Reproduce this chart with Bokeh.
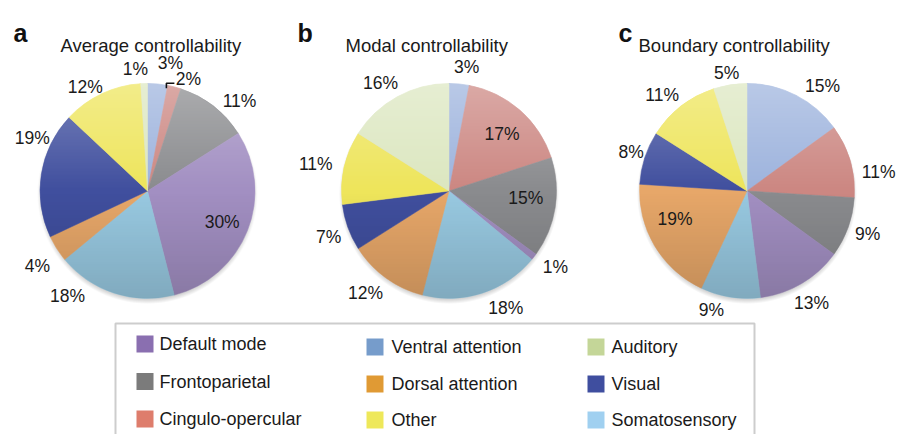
import numpy as np
from bokeh.plotting import figure
from bokeh.models import Range1d
from bokeh.core.properties import value
from bokeh.embed import file_html
from bokeh.resources import INLINE

# ---------------- data ----------------
categories = ["Ventral attention", "Cingulo-opercular", "Frontoparietal",
              "Default mode", "Somatosensory", "Dorsal attention",
              "Visual", "Other", "Auditory"]
average_pct = [3, 2, 11, 30, 18, 4, 19, 12, 1]
modal_pct = [3, 17, 15, 1, 18, 12, 7, 11, 16]
boundary_pct = [15, 11, 9, 13, 9, 19, 8, 11, 5]
titles = ["Average controllability", "Modal controllability", "Boundary controllability"]
panel_letters = ["a", "b", "c"]
legend_columns = [["Default mode", "Frontoparietal", "Cingulo-opercular"],
                  ["Ventral attention", "Dorsal attention", "Other"],
                  ["Auditory", "Visual", "Somatosensory"]]

# ---------------- styles ----------------
pie_colors = {
    "Ventral attention": "#9DB3DD", "Cingulo-opercular": "#CC8782",
    "Frontoparietal": "#8A8B8E", "Default mode": "#A28FC2",
    "Somatosensory": "#98C9E1", "Dorsal attention": "#E7A769",
    "Visual": "#404F9E", "Other": "#EEE55B", "Auditory": "#DCE7C0",
}
legend_colors = {
    "Default mode": "#8A6FB0", "Frontoparietal": "#7B7B7B", "Cingulo-opercular": "#DE7D6C",
    "Ventral attention": "#769CCB", "Dorsal attention": "#E09A34", "Other": "#EEE85A",
    "Auditory": "#C4D698", "Visual": "#3F4E9F", "Somatosensory": "#A0D0F0",
}
FONT = value("Liberation Sans")
TXT = "#1A1A1A"

# label placement (angle shift in degrees from slice middle, distance in px)
label_shift = [[4.7, 5.7, 7.7, 1.2, 19.3, -1.7, 15.9, -5.7, -3.8],
               [2.7, 1.5, -4.1, -2.1, -7.9, 3.2, -1.3, -1.0, -3.5],
               [8.8, 8.2, -0.4, 0.6, 7.7, 9.6, 0.4, -3.7, -0.8]]
label_dist = [[130, 119, 129, 81, 132, 133, 127, 121, 123],
              [125, 78, 77, 131, 130, 132, 129, 136, 128],
              [129, 133, 128, 129, 124, 77, 122, 128, 120]]

W, H = 898, 434
def X(px):
    return px
def Y(py):
    return H - py

centers = [(147, 190.5), (448.5, 190.5), (746.5, 190.5)]
R = 107.5
title_x = [60, 345, 638]
letter_x = [13, 297, 618]

p = figure(width=W, height=H, x_range=Range1d(0, W), y_range=Range1d(0, H),
           output_backend="svg", toolbar_location=None, min_border=0)
p.axis.visible = False
p.grid.visible = False
p.outline_line_color = None
p.background_fill_color = "white"
p.border_fill_color = "white"


def rgba_image(n, alpha, rgb):
    img = np.zeros((n, n), dtype=np.uint32)
    v = img.view(dtype=np.uint8).reshape((n, n, 4))
    v[..., 0] = rgb[0]
    v[..., 1] = rgb[1]
    v[..., 2] = rgb[2]
    v[..., 3] = np.clip(alpha * 255, 0, 255).astype(np.uint8)
    return img


n = 2 * int(R) + 8
half = n / 2.0
jj, ii = np.meshgrid(np.arange(n) + 0.5 - half, np.arange(n) + 0.5 - half)
dist = np.sqrt(jj ** 2 + ii ** 2)
mask = np.clip(R - dist + 0.5, 0, 1)
t = 1 - (np.arange(n)[:, None] + 0.5) / n  # 0 top, 1 bottom
t = np.repeat(t, n, axis=1)
white_alpha = np.where(t < 0.5, 0.30 * (0.5 - t) / 0.5, 0) * mask
black_alpha = np.where(t > 0.5, 0.16 * (t - 0.5) / 0.5, 0) * mask
shadow_alpha = 0.28 * np.clip((R + 2.5 - dist) / 5.0, 0, 1)

img_white = rgba_image(n, white_alpha, (255, 255, 255))
img_black = rgba_image(n, black_alpha, (0, 0, 0))
img_shadow = rgba_image(n, shadow_alpha, (90, 90, 90))

series = [average_pct, modal_pct, boundary_pct]

for k, vals in enumerate(series):
    cx, cy = centers[k]
    vals = np.array(vals, dtype=float)
    frac = vals / vals.sum()
    c1 = np.cumsum(frac)
    c0 = c1 - frac
    # shadow
    p.image_rgba(image=[img_shadow], x=X(cx) - half, y=Y(cy) - half - 3, dw=n, dh=n)
    p.wedge(x=[X(cx)] * len(vals), y=[Y(cy)] * len(vals), radius=R,
            start_angle=list(np.pi / 2 - 2 * np.pi * c0),
            end_angle=list(np.pi / 2 - 2 * np.pi * c1),
            direction="clock",
            fill_color=[pie_colors[c] for c in categories],
            line_color=[pie_colors[c] for c in categories], line_width=0.5)
    p.image_rgba(image=[img_white], x=X(cx) - half, y=Y(cy) - half, dw=n, dh=n)
    p.image_rgba(image=[img_black], x=X(cx) - half, y=Y(cy) - half, dw=n, dh=n)

    mid = np.radians((c0 + c1) / 2 * 360 + np.array(label_shift[k]))
    d = np.array(label_dist[k], dtype=float)
    lx = [X(cx + di * np.sin(a)) for di, a in zip(d, mid)]
    ly = [Y(cy - di * np.cos(a)) for di, a in zip(d, mid)]
    p.text(x=lx, y=ly, text=["%d%%" % v for v in vals],
           text_font=FONT, text_font_size=value("17.5px"), text_color=TXT,
           text_align="center", text_baseline="middle")
    if k == 0:
        # leader line for the small cingulo-opercular slice
        i = 1
        p.line(x=[lx[i] - 22, lx[i] - 22, lx[i] - 14],
               y=[ly[i] - 9, ly[i] - 4, ly[i] - 4],
               line_color="#111111", line_width=1.6)

    p.text(x=[X(title_x[k])], y=[Y(45)], text=[titles[k]], text_font=FONT,
           text_font_size=value("18.5px"), text_color=TXT,
           text_align="left", text_baseline="alphabetic")
    p.text(x=[X(letter_x[k])], y=[Y(32)], text=[panel_letters[k]], text_font=FONT,
           text_font_size=value("25px"), text_font_style="bold", text_color="#111111",
           text_align="left", text_baseline="alphabetic")

# ---------------- legend ----------------
p.quad(left=[X(115)], right=[X(754)], top=[Y(323)], bottom=[-30],
       fill_color=None, line_color="#CDCDCD", line_width=2)
swatch_x = [144.5, 374.5, 595.5]
text_x = [159, 391, 611]
row_y = [[343.5, 381, 418.5], [346.5, 383.5, 419.5], [346.5, 383.5, 419.5]]
for ci, col in enumerate(legend_columns):
    p.rect(x=[X(swatch_x[ci])] * len(col), y=[Y(v) for v in row_y[ci]],
           width=17, height=17, fill_color=[legend_colors[c] for c in col],
           line_color=None)
    p.text(x=[X(text_x[ci])] * len(col), y=[Y(v) for v in row_y[ci]], text=col,
           text_font=FONT, text_font_size=value("18px"), text_color=TXT,
           text_align="left", text_baseline="middle")

open("out.html", "w").write(file_html(p, INLINE))
